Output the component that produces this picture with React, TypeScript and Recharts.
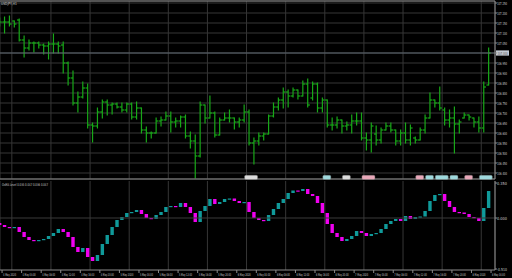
import React from 'react';
import { ComposedChart, Bar, XAxis, YAxis, CartesianGrid, ReferenceLine, ReferenceDot } from 'recharts';

// USDJPY H1 bars (first one is only half on screen)
const opens = [
  107.155, 107.155, 107.155, 107.160, 107.165, 107.065, 107.025, 107.050, 107.050, 107.040,
  107.035, 107.045, 107.045, 107.040, 106.950, 106.875, 106.750, 106.780, 106.825, 106.640,
  106.635, 106.705, 106.755, 106.740, 106.745, 106.730, 106.715, 106.745, 106.680, 106.725,
  106.615, 106.600, 106.600, 106.660, 106.665, 106.685, 106.655, 106.660, 106.680, 106.585,
  106.560, 106.485, 106.740, 106.675, 106.700, 106.590, 106.665, 106.675, 106.675, 106.655,
  106.665, 106.705, 106.550, 106.560, 106.585, 106.595, 106.685, 106.730, 106.765, 106.805,
  106.785, 106.815, 106.785, 106.845, 106.775, 106.845, 106.725, 106.765, 106.640, 106.640,
  106.665, 106.635, 106.640, 106.660, 106.660, 106.575, 106.565, 106.595, 106.565, 106.615,
  106.635, 106.615, 106.560, 106.600, 106.565, 106.575, 106.565, 106.615, 106.675, 106.765,
  106.750, 106.715, 106.665, 106.675, 106.645, 106.675, 106.690, 106.675, 106.655, 106.625,
  106.840,
];
const highs = [
  107.175, 107.180, 107.185, 107.160, 107.170, 107.085, 107.065, 107.055, 107.055, 107.045,
  107.055, 107.095, 107.055, 107.055, 106.955, 106.910, 106.805, 106.855, 106.845, 106.650,
  106.725, 106.765, 106.765, 106.750, 106.750, 106.750, 106.750, 106.750, 106.755, 106.725,
  106.630, 106.605, 106.675, 106.680, 106.705, 106.705, 106.675, 106.685, 106.690, 106.605,
  106.590, 106.755, 106.740, 106.785, 106.705, 106.675, 106.700, 106.715, 106.675, 106.675,
  106.740, 106.715, 106.575, 106.600, 106.600, 106.690, 106.750, 106.775, 106.825, 106.815,
  106.825, 106.815, 106.860, 106.870, 106.855, 106.850, 106.775, 106.765, 106.675, 106.680,
  106.665, 106.655, 106.690, 106.700, 106.700, 106.600, 106.650, 106.635, 106.625, 106.650,
  106.650, 106.615, 106.615, 106.650, 106.640, 106.580, 106.625, 106.690, 106.800, 106.765,
  106.830, 106.725, 106.715, 106.730, 106.665, 106.700, 106.690, 106.675, 106.680, 106.855,
  107.025,
];
const lows = [
  107.135, 107.100, 107.135, 107.130, 107.060, 106.980, 107.015, 107.005, 107.025, 106.995,
  106.970, 107.000, 107.000, 106.900, 106.840, 106.740, 106.705, 106.775, 106.625, 106.555,
  106.625, 106.675, 106.690, 106.695, 106.725, 106.705, 106.705, 106.670, 106.670, 106.600,
  106.555, 106.575, 106.600, 106.635, 106.665, 106.605, 106.630, 106.630, 106.575, 106.525,
  106.375, 106.480, 106.650, 106.675, 106.580, 106.590, 106.665, 106.655, 106.620, 106.630,
  106.655, 106.540, 106.445, 106.540, 106.565, 106.595, 106.680, 106.715, 106.725, 106.730,
  106.780, 106.770, 106.785, 106.730, 106.765, 106.705, 106.705, 106.630, 106.615, 106.625,
  106.600, 106.615, 106.600, 106.640, 106.565, 106.515, 106.505, 106.540, 106.550, 106.615,
  106.605, 106.540, 106.540, 106.550, 106.540, 106.550, 106.565, 106.600, 106.675, 106.730,
  106.715, 106.640, 106.630, 106.500, 106.600, 106.675, 106.665, 106.630, 106.605, 106.605,
  106.840,
];
const closes = [
  107.155, 107.155, 107.145, 107.145, 107.065, 107.025, 107.050, 107.050, 107.040, 107.035,
  107.045, 107.045, 107.035, 106.950, 106.875, 106.750, 106.780, 106.825, 106.640, 106.635,
  106.705, 106.755, 106.740, 106.745, 106.730, 106.715, 106.745, 106.680, 106.725, 106.615,
  106.600, 106.600, 106.660, 106.665, 106.685, 106.655, 106.660, 106.680, 106.585, 106.560,
  106.485, 106.740, 106.675, 106.700, 106.590, 106.665, 106.675, 106.675, 106.655, 106.665,
  106.705, 106.550, 106.560, 106.585, 106.595, 106.685, 106.730, 106.765, 106.805, 106.785,
  106.815, 106.785, 106.845, 106.740, 106.845, 106.725, 106.765, 106.640, 106.640, 106.665,
  106.635, 106.640, 106.660, 106.660, 106.575, 106.565, 106.635, 106.565, 106.615, 106.635,
  106.615, 106.560, 106.600, 106.565, 106.625, 106.565, 106.615, 106.675, 106.765, 106.750,
  106.725, 106.665, 106.675, 106.645, 106.655, 106.690, 106.680, 106.655, 106.625, 106.830,
  107.000,
];

// oscillator in the lower window, one value per bar
const indStart = -0.05;
const indClose = [
  -0.07, -0.09, -0.10, -0.09, -0.14, -0.19, -0.22, -0.23, -0.22, -0.21,
  -0.18, -0.15, -0.11, -0.14, -0.19, -0.29, -0.34, -0.30, -0.39, -0.43,
  -0.37, -0.26, -0.17, -0.09, -0.02, 0.01, 0.05, 0.06, 0.08, 0.04,
  0.00, -0.01, 0.03, 0.06, 0.11, 0.12, 0.11, 0.15, 0.11, 0.05,
  -0.04, 0.07, 0.12, 0.19, 0.14, 0.16, 0.19, 0.195, 0.17, 0.15,
  0.16, 0.06, 0.00, -0.02, -0.03, 0.03, 0.09, 0.15, 0.19, 0.25,
  0.275, 0.27, 0.29, 0.24, 0.22, 0.15, 0.05, -0.06, -0.15, -0.19,
  -0.23, -0.21, -0.18, -0.13, -0.15, -0.18, -0.16, -0.15, -0.11, -0.06,
  -0.03, -0.01, -0.03, 0.02, -0.01, 0.01, 0.015, 0.07, 0.17, 0.23,
  0.24, 0.17, 0.11, 0.06, 0.055, 0.04, 0.01, 0.00, -0.03, 0.10,
  0.27,
];

const priceTicks = [
  107.25, 107.2, 107.15, 107.1, 107.05, 107.0, 106.95, 106.9, 106.85,
  106.8, 106.75, 106.7, 106.65, 106.6, 106.55, 106.5, 106.45, 106.4,
];
const indTicks = [0.35, 0, -0.51];

const timeLabels = [
  '4 May 2020', '4 May 04:00', '4 May 08:00', '4 May 12:00', '4 May 16:00', '4 May 20:00',
  '5 May 2020', '5 May 04:00', '5 May 08:00', '5 May 12:00', '5 May 16:00', '5 May 20:00',
  '6 May 2020', '6 May 04:00', '6 May 08:00', '6 May 12:00', '6 May 16:00', '6 May 20:00',
  '7 May 2020', '7 May 04:00', '7 May 08:00', '7 May 12:00', '7 May 16:00', '7 May 20:00',
  '8 May 2020', '8 May 04:00',
];

// calendar events (bar index, currency, how many stacked)
const events = [
  { j: 50, kind: 'none', n: 2 },
  { j: 66, kind: 'usd', n: 1 },
  { j: 70, kind: 'none', n: 1 },
  { j: 74, kind: 'jpy', n: 2 },
  { j: 85, kind: 'jpy', n: 1 },
  { j: 87, kind: 'usd', n: 1 },
  { j: 89, kind: 'usd', n: 2 },
  { j: 92, kind: 'usd', n: 1 },
  { j: 95, kind: 'jpy', n: 1 },
  { j: 98, kind: 'usd', n: 2 },
];

const PMIN = 106.37;
const PMAX = 107.26;
const XMIN = -0.02;
const XMAX = 101.21;
const gridTicks = Array.from({ length: 25 }, (_, k) => 2.4 + 4 * k);
const timeTicks = timeLabels.map((_, k) => 0.4 + 4 * k);

const FRAME = '#8c8c8c';
const GRID = '#363636';
const GREEN = '#18a818';
const TEAL = '#109a9a';
const MAGENTA = '#f000f0';
const TXT = '#cfcfcf';
const FONT = '"Liberation Sans Narrow", "DejaVu Sans Condensed", sans-serif';
const EVENT_COLORS: Record<string, string> = { none: '#dcdcdc', usd: '#9fd9dd', jpy: '#e8a8b9' };

const bars = opens.map((o, j) => ({ j, o, h: highs[j], l: lows[j], c: closes[j] }));
const ind = indClose.map((c, j) => {
  const o = j === 0 ? indStart : indClose[j - 1];
  return { j, o, c, up: c >= o };
});
const last = closes[closes.length - 1];

const OhlcShape = (props: any) => {
  const { x, y, width, height, payload } = props;
  const cx = x + width / 2;
  const top = Math.min(y, y + height);
  const bot = Math.max(y, y + height);
  const span = payload.h - payload.l;
  const toY = (v: number) => (span === 0 ? top : top + ((payload.h - v) / span) * (bot - top));
  return (
    <g stroke={GREEN} strokeWidth={1.2}>
      <line x1={cx} x2={cx} y1={top - 0.5} y2={bot + 0.5} />
      <line x1={cx - 2.2} x2={cx} y1={toY(payload.o)} y2={toY(payload.o)} />
      <line x1={cx} x2={cx + 2.2} y1={toY(payload.c)} y2={toY(payload.c)} />
    </g>
  );
};

const BodyShape = (props: any) => {
  const { x, y, width, height, payload } = props;
  const cx = x + width / 2;
  const top = Math.min(y, y + height);
  const h = Math.max(1.2, Math.abs(height));
  return <rect x={cx - 1.7} y={top} width={3.4} height={h} fill={payload.up ? TEAL : MAGENTA} />;
};

const PriceTick = ({ x, y, payload }: any) => (
  <text x={x} y={y + 1.5} fontSize={4} fill={TXT} fontFamily={FONT} textLength={10} lengthAdjust="spacingAndGlyphs">
    {payload.value.toFixed(3)}
  </text>
);

const TimeTick = ({ x, y, payload }: any) => {
  const i = timeTicks.indexOf(payload.value);
  return (
    <text x={x + 1} y={y + 3.4} fontSize={3.8} fill={TXT} fontFamily={FONT} textLength={13} lengthAdjust="spacingAndGlyphs">
      {timeLabels[i]}
    </text>
  );
};

const PriceTag = ({ viewBox }: any) => {
  const x = viewBox.x + viewBox.width + 1;
  return (
    <g>
      <rect x={x} y={viewBox.y - 2.6} width={13} height={5.2} fill="#c3cad4" />
      <text x={x + 1.5} y={viewBox.y + 1.5} fontSize={4} fill="#111" fontFamily={FONT} textLength={10} lengthAdjust="spacingAndGlyphs">
        {last.toFixed(3)}
      </text>
    </g>
  );
};

const EventShape = (kind: string, n: number) => (p: any) => (
  <rect
    x={p.cx}
    y={p.cy - 2.2}
    width={n > 1 ? 13 : 8}
    height={4.4}
    rx={1.4}
    fill={EVENT_COLORS[kind]}
    stroke="#6d6d6d"
    strokeWidth={0.4}
  />
);

export default function App() {
  return (
    <div style={{ position: 'fixed', left: 0, top: 0, width: 512, height: 278, background: '#000' }}>
      <div style={{ position: 'absolute', left: 0, top: 0 }}>
        <ComposedChart width={512} height={180} data={bars} margin={{ top: 1, right: 0, bottom: 1, left: 0 }}>
          <CartesianGrid stroke={GRID} strokeWidth={1} />
          <XAxis type="number" dataKey="j" domain={[XMIN, XMAX]} ticks={gridTicks} allowDataOverflow hide />
          <YAxis
            orientation="right"
            width={17}
            domain={[PMIN, PMAX]}
            allowDataOverflow
            ticks={priceTicks}
            interval={0}
            tickSize={2}
            tickMargin={0}
            axisLine={{ stroke: FRAME }}
            tickLine={{ stroke: FRAME }}
            tick={<PriceTick />}
          />
          <ReferenceLine y={PMAX} stroke={FRAME} ifOverflow="visible" />
          <ReferenceLine y={PMIN} stroke={FRAME} ifOverflow="visible" />
          <ReferenceLine y={last} stroke="#5d6670" strokeWidth={1.2} label={<PriceTag />} />
          <Bar dataKey={(d: any) => [d.l, d.h]} barSize={4} shape={<OhlcShape />} isAnimationActive={false} />
          {events.map((e) => (
            <ReferenceDot
              key={e.j}
              x={e.j}
              y={106.378}
              ifOverflow="visible"
              shape={EventShape(e.kind, e.n)}
            />
          ))}
        </ComposedChart>
      </div>
      <div style={{ position: 'absolute', left: 0, top: 180 }}>
        <ComposedChart width={512} height={98} data={ind} margin={{ top: 1, right: 0, bottom: 0, left: 0 }}>
          <CartesianGrid stroke={GRID} horizontal={false} xAxisId="grid" />
          <XAxis xAxisId="grid" type="number" dataKey="j" domain={[XMIN, XMAX]} ticks={gridTicks} allowDataOverflow hide />
          <XAxis
            type="number"
            dataKey="j"
            domain={[XMIN, XMAX]}
            allowDataOverflow
            ticks={timeTicks}
            interval={0}
            height={8}
            tickSize={3}
            tickMargin={0}
            axisLine={{ stroke: FRAME }}
            tickLine={{ stroke: FRAME }}
            tick={<TimeTick />}
          />
          <YAxis
            orientation="right"
            width={17}
            domain={[-0.52, 0.37]}
            allowDataOverflow
            ticks={indTicks}
            interval={0}
            tickSize={2}
            tickMargin={0}
            axisLine={{ stroke: FRAME }}
            tickLine={{ stroke: FRAME }}
            tick={<PriceTick />}
          />
          <ReferenceLine y={0} stroke="#3a3a3a" />
          <Bar dataKey={(d: any) => [Math.min(d.o, d.c), Math.max(d.o, d.c)]} barSize={4} shape={<BodyShape />} isAnimationActive={false} />
        </ComposedChart>
      </div>
      <svg width={512} height={278} style={{ position: 'absolute', left: 0, top: 0, pointerEvents: 'none' }}>
        <text x={1} y={4.6} fontSize={4} fill={TXT} fontFamily={FONT} textLength={16} lengthAdjust="spacingAndGlyphs">
          USDJPY,H1
        </text>
        <text x={2} y={185.6} fontSize={3.8} fill={TXT} fontFamily={FONT} textLength={46} lengthAdjust="spacingAndGlyphs">
          OsMA Level 0.035 0.047 0.036 0.047
        </text>
      </svg>
    </div>
  );
}
